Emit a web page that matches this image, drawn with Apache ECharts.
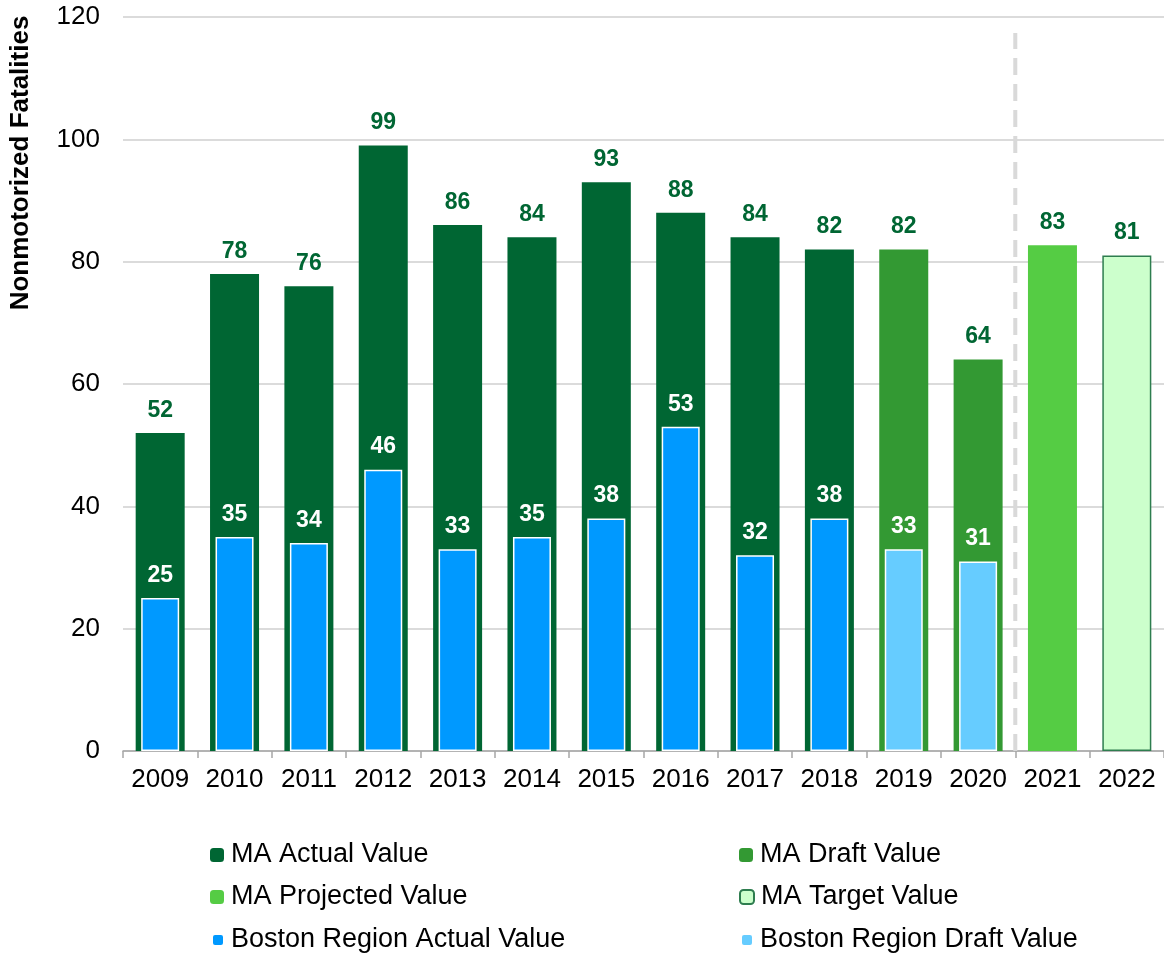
<!DOCTYPE html>
<html>
<head>
<meta charset="utf-8">
<script src="https://cdn.jsdelivr.net/npm/echarts@6/dist/echarts.min.js"></script>
<style>html,body{margin:0;padding:0;background:#fff;}#c{width:1164px;height:955px;}</style>
</head>
<body>
<div id="c"></div>
<script>
var years = ['2009','2010','2011','2012','2013','2014','2015','2016','2017','2018','2019','2020','2021','2022'];
var maActual = [52,78,76,99,86,84,93,88,84,82,null,null,null,null];
var maDraft = [null,null,null,null,null,null,null,null,null,null,82,64,null,null];
var maProjected = [null,null,null,null,null,null,null,null,null,null,null,null,82.7,null];
var maTarget = [null,null,null,null,null,null,null,null,null,null,null,null,null,81];
var bostonActual = [25,35,34,46,33,35,38,53,32,38,null,null,null,null];
var bostonDraft = [null,null,null,null,null,null,null,null,null,null,33,31,null,null];
var yTicks = [0,20,40,60,80,100,120];
var dividerAt = 12;
var dividerTop = 117.4;

var FONT = '"Liberation Sans", Arial, sans-serif';
var chart = echarts.init(document.getElementById('c'), null, {renderer:'canvas'});

function maLabel() {
  return {show:true, position:'top', distance:11, color:'#006633', fontWeight:'bold', fontSize:23, fontFamily:FONT,
    formatter:function(p){return Math.round(p.value);}};
}
function bLabel() {
  return {show:true, position:'top', distance:11, color:'#ffffff', fontWeight:'bold', fontSize:23, fontFamily:FONT,
    formatter:function(p){return Math.round(p.value);}};
}
function maSeries(name, data, color, border) {
  return {name:name, type:'bar', xAxisIndex:0, yAxisIndex:0, data:data, barWidth:49, barGap:'-100%',
    itemStyle:{color:color, borderColor:border||color, borderWidth:border?1.5:0}, label:maLabel(), emphasis:{disabled:true}};
}
function bSeries(name, data, color) {
  return {name:name, type:'bar', xAxisIndex:1, yAxisIndex:0, data:data, barWidth:38, barGap:'-100%',
    itemStyle:{color:color, borderColor:'#ffffff', borderWidth:1.5}, label:bLabel(), emphasis:{disabled:true}};
}

var legendText = {fontSize:27, fontFamily:FONT, color:'#000', lineHeight:30, padding:[0,0,0,2]};
function leg(name, left, centerY, size) {
  return {left:left, top:centerY - 18, itemWidth:size, itemHeight:size, itemGap:0, textStyle:legendText,
    data:[name], selectedMode:false};
}
var option = {
  animation:false,
  textStyle:{fontFamily:FONT},
  grid:{left:123, top:17, width:1044, bottom:204, containLabel:false},
  legend:[
    leg('MA Actual Value', 205, 853, 14),
    leg('MA Projected Value', 205, 895, 14),
    leg('Boston Region Actual Value', 206, 938, 12),
    leg('MA Draft Value', 734, 853, 14),
    leg('MA Target Value', 734, 895, 14),
    leg('Boston Region Draft Value', 735, 938, 12)
  ],
  xAxis:[
    {type:'category', data:years, gridIndex:0,
     axisLine:{show:true, lineStyle:{color:'#A6A6A6', width:1.5}},
     axisTick:{show:true, length:7, lineStyle:{color:'#A6A6A6', width:1.5}},
     axisLabel:{fontSize:26, color:'#000', fontFamily:FONT, margin:16, interval:0, hideOverlap:false}},
    {type:'category', data:years, gridIndex:0, show:false},
    {type:'value', min:0, max:14, gridIndex:0, show:false}
  ],
  yAxis:[{type:'value', min:0, max:120, interval:20,
    axisLine:{show:false}, axisTick:{show:false},
    splitLine:{lineStyle:{color:'#CFCFCF', width:1.5}},
    axisLabel:{fontSize:26, color:'#000', fontFamily:FONT, margin:23,
      formatter:function(v){return yTicks.indexOf(v)>=0 ? String(v) : '';}}}],
  graphic:[{type:'text', x:21, y:163, rotation:Math.PI/2,
    style:{text:'Nonmotorized Fatalities', fontSize:26, fontWeight:'bold', fontFamily:FONT, fill:'#000',
      align:'center', verticalAlign:'middle'}}],
  series:[
    maSeries('MA Actual Value', maActual, '#006633'),
    maSeries('MA Draft Value', maDraft, '#339933'),
    maSeries('MA Projected Value', maProjected, '#55CC44'),
    maSeries('MA Target Value', maTarget, '#CCFFCC', '#2E7D4F'),
    bSeries('Boston Region Actual Value', bostonActual, '#0099FF'),
    bSeries('Boston Region Draft Value', bostonDraft, '#66CCFF'),
    {name:'divider', type:'line', xAxisIndex:2, yAxisIndex:0, data:[[dividerAt,0],[dividerAt,dividerTop]],
     symbol:'none', silent:true, z:1, lineStyle:{color:'#D9D9D9', width:4, type:[17,9]}}
  ]
};
chart.setOption(option);
</script>
</body>
</html>
